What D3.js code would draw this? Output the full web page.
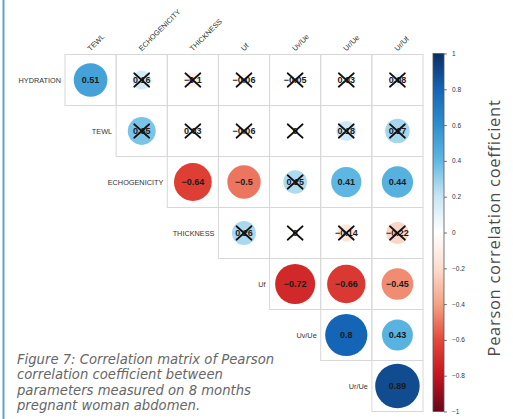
<!DOCTYPE html>
<html>
<head>
<meta charset="utf-8">
<script src="https://cdn.jsdelivr.net/npm/d3@7/dist/d3.min.js"></script>
<style>
  html, body { margin: 0; padding: 0; background: #ffffff; }
  svg { display: block; }
</style>
</head>
<body>
<svg id="chart" width="513" height="419"></svg>
<script>
// Variables of the correlation matrix (upper triangle, diagonal removed)
const rowLabels = ["HYDRATION", "TEWL", "ECHOGENICITY", "THICKNESS", "Uf", "Uv/Ue", "Ur/Ue"];
const colLabels = ["TEWL", "ECHOGENICITY", "THICKNESS", "Uf", "Uv/Ue", "Ur/Ue", "Ur/Uf"];

// Pearson coefficients, one array per row, starting at the column of the same index
const hydrationRow    = [0.51, 0.16, -0.1, -0.06, -0.05, 0.03, 0.08];
const tewlRow         = [0.35, 0.03, -0.06, 0, 0.18, 0.27];
const echogenicityRow = [-0.64, -0.5, 0.25, 0.41, 0.44];
const thicknessRow    = [0.26, 0, -0.14, -0.22];
const ufRow           = [-0.72, -0.66, -0.45];
const uvUeRow         = [0.8, 0.43];
const urUeRow         = [0.89];

// Non-significant coefficients (crossed out), same layout as above
const hydrationNS    = [false, true, true, true, true, true, true];
const tewlNS         = [true, true, true, true, true, true];
const echogenicityNS = [false, false, true, false, false];
const thicknessNS    = [true, true, true, true];
const ufNS           = [false, false, false];
const uvUeNS         = [false, false];
const urUeNS         = [false];

const colorbarTicks = [1, 0.8, 0.6, 0.4, 0.2, 0, -0.2, -0.4, -0.6, -0.8, -1];

const captionLines = [
  "Figure 7: Correlation matrix of Pearson",
  "correlation coefficient between",
  "parameters measured on 8 months",
  "pregnant woman abdomen."
];

const rows = [hydrationRow, tewlRow, echogenicityRow, thicknessRow, ufRow, uvUeRow, urUeRow];
const nsRows = [hydrationNS, tewlNS, echogenicityNS, thicknessNS, ufNS, uvUeNS, urUeNS];

const cells = [];
rows.forEach((vals, i) => {
  vals.forEach((v, k) => {
    cells.push({ row: i, col: i + k, value: v, ns: nsRows[i][k] });
  });
});

const svg = d3.select("#chart");

// Layout
const gridLeft = 65, gridRight = 423, gridTop = 54.5, gridBottom = 411.5;

const x = d3.scaleBand().domain(colLabels).range([gridLeft, gridRight]);
const y = d3.scaleBand().domain(rowLabels).range([gridTop, gridBottom]);
const cw = x.bandwidth(), ch = y.bandwidth();

const color = d3.scaleLinear()
  .domain([-1, -0.8, -0.6, -0.4, -0.2, 0, 0.2, 0.4, 0.6, 0.8, 1])
  .range(["#67051c", "#c4141e", "#e4483a", "#f4a284", "#fcdcce", "#ffffff",
          "#c9e6f4", "#60b9e3", "#2d8fd0", "#1565b6", "#0b2e63"])
  .interpolate(d3.interpolateRgb)
  .clamp(true);

const radius = d3.scaleSqrt().domain([0, 1]).range([0, 23.6]);

const minus = s => s.replace("-", "\u2212");

// Left accent rule of the page
svg.append("line")
  .attr("x1", 3.5).attr("x2", 3.5).attr("y1", 0).attr("y2", 419)
  .attr("stroke", "#5d9fd6").attr("stroke-width", 2);

// Cell grid
const g = svg.append("g");
g.selectAll("rect.cell")
  .data(cells)
  .join("rect")
  .attr("class", "cell")
  .attr("x", d => x(colLabels[d.col]))
  .attr("y", d => y(rowLabels[d.row]))
  .attr("width", cw).attr("height", ch)
  .attr("fill", "none")
  .attr("stroke", "#d8d8d8")
  .attr("stroke-width", 1);

// Circles
g.selectAll("circle.coef")
  .data(cells)
  .join("circle")
  .attr("class", "coef")
  .attr("cx", d => x(colLabels[d.col]) + cw / 2)
  .attr("cy", d => y(rowLabels[d.row]) + ch / 2)
  .attr("r", d => radius(Math.abs(d.value)))
  .attr("fill", d => color(d.value));

// Coefficient labels
g.selectAll("text.coef")
  .data(cells)
  .join("text")
  .attr("class", "coef")
  .attr("x", d => x(colLabels[d.col]) + cw / 2)
  .attr("y", d => y(rowLabels[d.row]) + ch / 2)
  .attr("text-anchor", "middle")
  .attr("dominant-baseline", "central")
  .attr("font-family", "'Liberation Sans', Arial, sans-serif")
  .attr("font-weight", "bold")
  .attr("font-size", 9)
  .attr("fill", "#1a1a1a")
  .text(d => minus(String(d.value)));

// Crosses over non-significant coefficients
const cross = 7.5;
const nsCells = cells.filter(d => d.ns);
[[-1, -1, 1, 1], [-1, 1, 1, -1]].forEach(([a, b, c, e]) => {
  g.append("g").selectAll("line")
    .data(nsCells)
    .join("line")
    .attr("x1", d => x(colLabels[d.col]) + cw / 2 + a * cross)
    .attr("y1", d => y(rowLabels[d.row]) + ch / 2 + b * cross * 0.9)
    .attr("x2", d => x(colLabels[d.col]) + cw / 2 + c * cross)
    .attr("y2", d => y(rowLabels[d.row]) + ch / 2 + e * cross * 0.9)
    .attr("stroke", "#111")
    .attr("stroke-width", 1.7)
    .attr("stroke-linecap", "round");
});

// Row labels, to the left of each row's first cell
svg.append("g").selectAll("text")
  .data(rowLabels)
  .join("text")
  .attr("x", (d, i) => x(colLabels[i]) - 4)
  .attr("y", d => y(d) + ch / 2)
  .attr("text-anchor", "end")
  .attr("dominant-baseline", "central")
  .attr("font-family", "'Liberation Sans', Arial, sans-serif")
  .attr("font-size", 7.3)
  .attr("fill", "#333")
  .text(d => d);

// Column labels, slanted above the grid
svg.append("g").selectAll("text")
  .data(colLabels)
  .join("text")
  .attr("transform", d => `translate(${x(d) + cw / 2},${gridTop - 3}) rotate(-45)`)
  .attr("text-anchor", "start")
  .attr("font-family", "'Liberation Sans', Arial, sans-serif")
  .attr("font-size", 7.3)
  .attr("fill", "#333")
  .text(d => d);

// Colour bar
const barX = 433, barW = 11;
const barScale = d3.scaleLinear().domain([-1, 1]).range([gridBottom, gridTop - 1]);

const defs = svg.append("defs");
const grad = defs.append("linearGradient")
  .attr("id", "corrGrad")
  .attr("x1", 0).attr("y1", 1).attr("x2", 0).attr("y2", 0);
grad.selectAll("stop")
  .data(d3.range(0, 41).map(i => -1 + i * 0.05))
  .join("stop")
  .attr("offset", d => (d + 1) / 2)
  .attr("stop-color", d => color(d));

svg.append("rect")
  .attr("x", barX).attr("y", barScale(1))
  .attr("width", barW).attr("height", barScale(-1) - barScale(1))
  .attr("fill", "url(#corrGrad)")
  .attr("stroke", "#555").attr("stroke-width", 0.8);

const barAxis = d3.axisRight(barScale)
  .tickValues(colorbarTicks)
  .tickSize(3)
  .tickPadding(5)
  .tickFormat(d => minus(String(d)));

const axisG = svg.append("g")
  .attr("transform", `translate(${barX + barW},0)`)
  .call(barAxis);
axisG.select(".domain").remove();
axisG.selectAll(".tick line").attr("stroke", "#555").attr("stroke-width", 0.8);
axisG.selectAll(".tick text")
  .attr("font-family", "'Liberation Sans', Arial, sans-serif")
  .attr("font-size", 6.5)
  .attr("fill", "#333");

// Colour bar title
svg.append("text")
  .attr("transform", `translate(499.5,${(gridTop + gridBottom) / 2 - 5}) rotate(-90)`)
  .attr("text-anchor", "middle")
  .attr("font-family", "'Open Sans', sans-serif")
  .attr("font-size", 16.5)
  .attr("letter-spacing", 0.7)
  .attr("fill", "#4a4a4a")
  .text("Pearson correlation coefficient");

// Figure caption
svg.append("g").selectAll("text")
  .data(captionLines)
  .join("text")
  .attr("x", 17)
  .attr("y", (d, i) => 364 + i * 15.3)
  .attr("font-family", "'DejaVu Sans', Verdana, sans-serif")
  .attr("font-style", "italic")
  .attr("font-size", 13.2)
  .attr("fill", "#666")
  .text(d => d);
</script>
</body>
</html>
